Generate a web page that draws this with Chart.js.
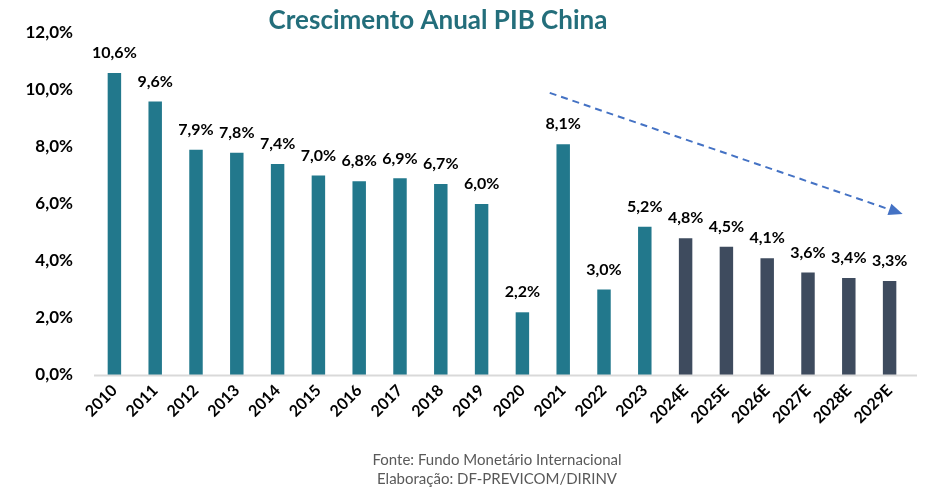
<!DOCTYPE html>
<html>
<head>
<meta charset="utf-8">
<script src="https://cdn.jsdelivr.net/npm/chart.js@4"></script>
<style>
html,body{margin:0;padding:0;background:#fff;}
#wrap{width:926px;height:487px;position:relative;}
</style>
</head>
<body>
<div id="wrap"><canvas id="c" width="926" height="487"></canvas></div>
<script>
const categories = ['2010','2011','2012','2013','2014','2015','2016','2017','2018','2019','2020','2021','2022','2023','2024E','2025E','2026E','2027E','2028E','2029E'];
const growth = [10.6, 9.6, 7.9, 7.8, 7.4, 7.0, 6.8, 6.9, 6.7, 6.0, 2.2, 8.1, 3.0, 5.2, 4.8, 4.5, 4.1, 3.6, 3.4, 3.3];
const isEstimate = [false,false,false,false,false,false,false,false,false,false,false,false,false,false,true,true,true,true,true,true];
const yTicks = [0, 2, 4, 6, 8, 10, 12];
const titleText = 'Crescimento Anual PIB China';
const footerLines = ['Fonte: Fundo Monetário Internacional', 'Elaboração: DF-PREVICOM/DIRINV'];
// trend arrow in data units: [category index, value]
const arrowFrom = [10.67, 9.9];
const arrowTo = [19.32, 5.65];

const TEAL = '#22788C';
const DARK = '#3E4B5E';
const FONT = 'Lato, "Open Sans", sans-serif';

const fmt = v => v.toFixed(1).replace('.', ',') + '%';

const overlay = {
  id: 'overlay',
  afterDatasetsDraw(chart) {
    const ctx = chart.ctx;
    const meta = chart.getDatasetMeta(0);
    ctx.save();
    ctx.fillStyle = '#000';
    ctx.font = 'bold 16px ' + FONT;
    ctx.textAlign = 'center';
    ctx.textBaseline = 'bottom';
    meta.data.forEach((bar, i) => {
      ctx.fillText(fmt(growth[i]), bar.x, bar.y - 12);
    });
    // x axis line
    const xs = chart.scales.x, ys = chart.scales.y;
    ctx.strokeStyle = '#d9d9d9';
    ctx.lineWidth = 2;
    ctx.beginPath();
    ctx.moveTo(chart.chartArea.left, ys.getPixelForValue(0) + 0.5);
    ctx.lineTo(chart.chartArea.right + 7, ys.getPixelForValue(0) + 0.5);
    ctx.stroke();
    // trend arrow
    const step = xs.getPixelForValue(1) - xs.getPixelForValue(0);
    const x0 = xs.getPixelForValue(0) + step * arrowFrom[0];
    const x1 = xs.getPixelForValue(0) + step * arrowTo[0];
    const y0 = ys.getPixelForValue(arrowFrom[1]);
    const y1 = ys.getPixelForValue(arrowTo[1]);
    const ang = Math.atan2(y1 - y0, x1 - x0);
    const head = 14;
    ctx.strokeStyle = '#4472C4';
    ctx.fillStyle = '#4472C4';
    ctx.lineWidth = 2;
    ctx.setLineDash([7, 5]);
    ctx.beginPath();
    ctx.moveTo(x0, y0);
    ctx.lineTo(x1 - head * Math.cos(ang), y1 - head * Math.sin(ang));
    ctx.stroke();
    ctx.setLineDash([]);
    ctx.beginPath();
    ctx.moveTo(x1, y1);
    ctx.lineTo(x1 - head * Math.cos(ang) + 6 * Math.sin(ang), y1 - head * Math.sin(ang) - 6 * Math.cos(ang));
    ctx.lineTo(x1 - head * Math.cos(ang) - 6 * Math.sin(ang), y1 - head * Math.sin(ang) + 6 * Math.cos(ang));
    ctx.closePath();
    ctx.fill();
    // title
    ctx.fillStyle = '#236E7B';
    ctx.font = 'bold 26px ' + FONT;
    ctx.textBaseline = 'middle';
    ctx.textAlign = 'center';
    ctx.fillText(titleText, 438, 21);
    // footer
    ctx.fillStyle = '#595959';
    ctx.font = '15px ' + FONT;
    ctx.fillText(footerLines[0], 497, 460);
    ctx.fillText(footerLines[1], 497, 479);
    ctx.restore();
  }
};

new Chart(document.getElementById('c'), {
  type: 'bar',
  data: {
    labels: categories,
    datasets: [{
      data: growth,
      backgroundColor: isEstimate.map(e => e ? DARK : TEAL),
      borderWidth: 0,
      barPercentage: 0.33,
      categoryPercentage: 1
    }]
  },
  options: {
    responsive: false,
    animation: false,
    devicePixelRatio: 1,
    layout: { padding: { top: 33, right: 16, left: 0, bottom: 0 } },
    plugins: { legend: { display: false }, tooltip: { enabled: false }, title: { display: false } },
    scales: {
      y: {
        min: 0, max: 12,
        afterBuildTicks: s => { s.ticks = yTicks.map(v => ({ value: v })); },
        afterFit: s => { s.width = 94; },
        grid: { display: false, drawTicks: false },
        border: { display: false },
        ticks: {
          color: '#000',
          padding: 21,
          font: { family: FONT, size: 17, weight: 'bold' },
          callback: v => fmt(v)
        }
      },
      x: {
        afterFit: s => { s.height = 112; },
        grid: { display: false, drawTicks: false },
        border: { display: false },
        ticks: {
          color: '#000',
          padding: 6,
          maxRotation: 45, minRotation: 45,
          autoSkip: false,
          font: { family: FONT, size: 16, weight: 'bold' }
        }
      }
    }
  },
  plugins: [overlay]
});
</script>
</body>
</html>
